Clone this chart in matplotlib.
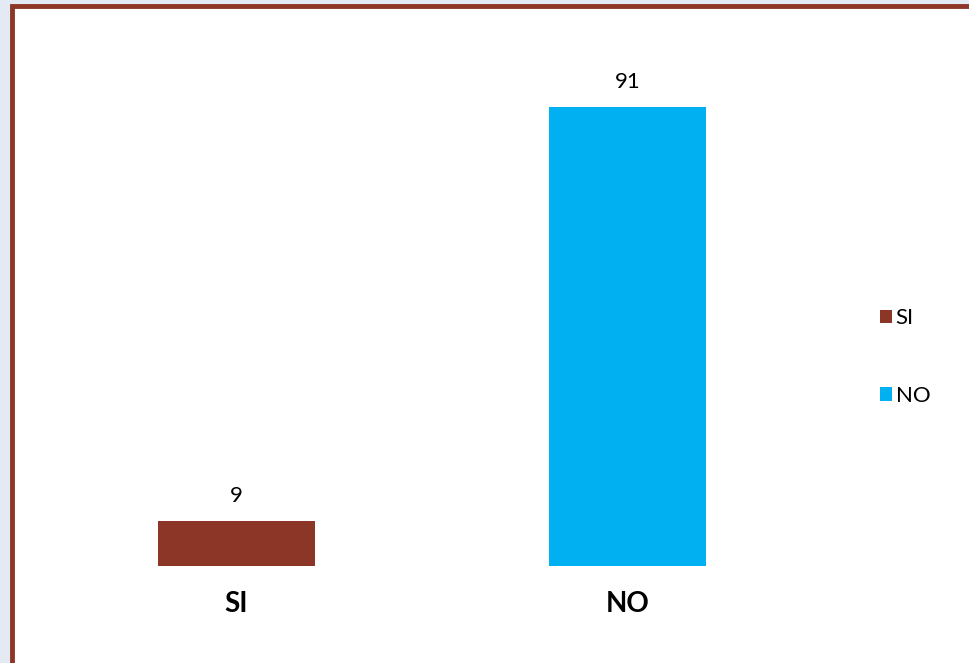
import matplotlib.pyplot as plt
from matplotlib.patches import Rectangle

categorias = ["SI", "NO"]
valores = [9, 91]
colores = ["#8B3626", "#00B0F0"]

plt.rcParams['font.family'] = ['Lato', 'DejaVu Sans']

W, H = 970, 663
fig = plt.figure(figsize=(W / 100, H / 100), dpi=100)
fig.patch.set_facecolor("#E3EAF3")

# marco blanco con borde marron
marco = Rectangle((12 / W, -0.05), 1.1, (H - 6) / H + 0.05, transform=fig.transFigure,
                  facecolor="white", edgecolor="#8B3626", linewidth=3.5, zorder=-1)
fig.patches.append(marco)

ax = fig.add_axes([41 / W, (H - 566) / H, (823 - 41) / W, (566 - 62) / H])
ax.set_facecolor("none")
ax.set_zorder(2)

barras = ax.bar(range(len(categorias)), valores, width=0.4, color=colores,
                label=categorias)
for x, v in enumerate(valores):
    ax.text(x, v + 3, str(v), ha="center", va="bottom", fontsize=16)

ax.set_xlim(-0.5, 1.5)
ax.set_ylim(0, 100)
ax.set_xticks(range(len(categorias)))
ax.set_xticklabels(categorias, fontsize=20, fontweight="bold")
ax.tick_params(axis="x", length=0, pad=18)
ax.set_yticks([])
for s in ax.spines.values():
    s.set_visible(False)

fig.legend(barras, categorias, loc="center left", bbox_to_anchor=(860 / W, (H - 357) / H),
           frameon=False, fontsize=16, handlelength=0.55, handleheight=0.55,
           handletextpad=0.15, labelspacing=2.6)

fig.savefig("out.png", dpi=100, facecolor=fig.get_facecolor())
